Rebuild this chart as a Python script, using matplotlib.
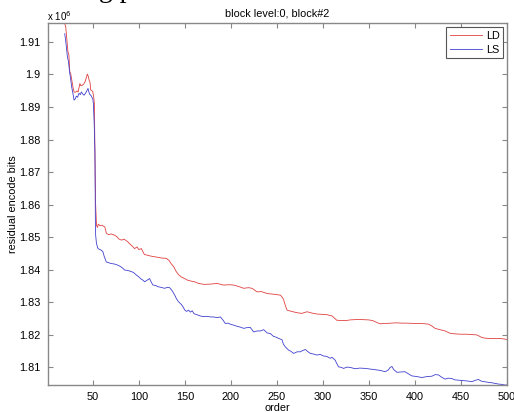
import numpy as np
import matplotlib.pyplot as plt

plt.rcParams['font.family'] = ['Liberation Sans', 'DejaVu Sans']

# residual encode bits (x 10^6) against predictor order
ld_order = [19, 20.6, 22, 23, 24, 25, 26, 27.8, 28.5, 29.6, 31, 33, 34, 36, 37, 38.7, 40, 41.5, 43, 44,
            45, 46, 47, 47.7, 49, 50, 51, 51.7, 52.4, 53, 54, 55, 56, 58, 60, 62, 63, 64.7, 67, 70,
            73.8, 76, 78, 81, 84, 88, 90, 93, 95.4, 98, 100, 102.7, 104, 106, 110, 113, 117, 121, 125, 130,
            133, 135, 138, 140.7, 143.5, 146, 149.7, 153, 157, 160.5, 165, 171, 178, 185, 192, 198, 203, 208, 214, 219,
            223, 228.5, 233, 239.4, 246, 253.8, 256, 257.4, 259.2, 261, 266, 272, 277, 282.7, 288, 293.6, 299, 304.4, 310, 315,
            320, 325, 329.7, 336, 342, 349.5, 354, 357, 362, 368, 374, 380, 386, 392, 400, 407, 414.6, 418, 421.9, 427,
            432.8, 438, 443.6, 450, 456, 462, 467, 470, 472.5, 476, 480, 486, 492, 497.9, 500]
ld_bits = [1.9160, 1.9146, 1.9100, 1.9069, 1.9060, 1.9008, 1.9002, 1.8972, 1.8960, 1.8946, 1.8945, 1.8949, 1.8946, 1.8972, 1.8965, 1.8967, 1.8970, 1.8977, 1.8990, 1.9001,
           1.8995, 1.8982, 1.8975, 1.8952, 1.8950, 1.8946, 1.8930, 1.8911, 1.8758, 1.8605, 1.8537, 1.8530, 1.8540, 1.8535, 1.8537, 1.8533, 1.8532, 1.8512, 1.8508, 1.8510,
           1.8506, 1.8502, 1.8495, 1.8491, 1.8494, 1.8486, 1.8480, 1.8472, 1.8465, 1.8470, 1.8462, 1.8465, 1.8458, 1.8447, 1.8444, 1.8442, 1.8440, 1.8438, 1.8436, 1.8435,
           1.8428, 1.8419, 1.8409, 1.8394, 1.8384, 1.8378, 1.8373, 1.8368, 1.8365, 1.8363, 1.8358, 1.8355, 1.8356, 1.8358, 1.8353, 1.8354, 1.8353, 1.8349, 1.8343, 1.8345,
           1.8343, 1.8332, 1.8333, 1.8327, 1.8325, 1.8322, 1.8315, 1.8307, 1.8290, 1.8276, 1.8272, 1.8268, 1.8266, 1.8271, 1.8267, 1.8264, 1.8263, 1.8262, 1.8258, 1.8245,
           1.8244, 1.8244, 1.8246, 1.8247, 1.8247, 1.8246, 1.8244, 1.8240, 1.8234, 1.8235, 1.8236, 1.8237, 1.8236, 1.8236, 1.8235, 1.8235, 1.8233, 1.8228, 1.8220, 1.8216,
           1.8212, 1.8205, 1.8203, 1.8202, 1.8202, 1.8201, 1.8200, 1.8196, 1.8192, 1.8190, 1.8189, 1.8189, 1.8189, 1.8187, 1.8185]

ls_order = [19.5, 20.5, 22.4, 23.5, 25, 26, 27, 28.5, 29.6, 31, 32, 33.5, 35, 36.5, 37.6, 39, 40.5, 42.3, 43.5, 44.8,
            45.5, 46.6, 48, 48.8, 50, 50.6, 51.5, 52.3, 52.8, 53.1, 54, 55.7, 57, 59.3, 61, 62.5, 64.7, 67, 70, 73,
            77.3, 80, 82, 84.6, 88, 91.8, 94, 97.3, 100, 102.7, 104.5, 106.3, 109, 111.7, 113.5, 115.3, 118, 120.7, 124, 128,
            131, 133.4, 135, 137, 139, 140.7, 143, 146, 148, 150, 152, 154, 156, 158, 160, 163, 167, 170, 174, 178,
            181.5, 185, 188.7, 191, 194, 197, 200, 203, 206, 210, 214, 217, 221, 224.8, 228.5, 232, 235.7, 239.4, 243, 246,
            250, 252, 255.6, 257, 259.2, 262.8, 265, 268.2, 272, 275.5, 278, 281, 283, 286.3, 290, 293.6, 297, 300.8, 304, 308,
            310, 313.4, 315, 317, 320, 322.5, 326, 329.7, 335, 340, 346, 351, 356.8, 362, 367.7, 371, 373, 375, 376.7, 380.4,
            385, 389, 393, 396.6, 402, 407.5, 413, 418.3, 422, 425.5, 429, 432.8, 436, 440, 443, 447.2, 451, 454.4, 458, 461.7,
            465, 468.9, 472, 476.1, 480, 483.4, 487, 490.6, 494, 497.9, 500]
ls_bits = [1.9125, 1.9105, 1.9054, 1.9040, 1.9003, 1.8985, 1.8962, 1.8940, 1.8921, 1.8925, 1.8933, 1.8930, 1.8942, 1.8938, 1.8946, 1.8940, 1.8936, 1.8943, 1.8950, 1.8957,
           1.8948, 1.8939, 1.8935, 1.8931, 1.8925, 1.8911, 1.8850, 1.8758, 1.8552, 1.8506, 1.8480, 1.8465, 1.8463, 1.8460, 1.8455, 1.8440, 1.8424, 1.8422, 1.8419, 1.8418,
           1.8414, 1.8410, 1.8406, 1.8399, 1.8398, 1.8394, 1.8392, 1.8384, 1.8378, 1.8371, 1.8368, 1.8363, 1.8368, 1.8373, 1.8362, 1.8353, 1.8352, 1.8348, 1.8346, 1.8343,
           1.8346, 1.8345, 1.8340, 1.8332, 1.8322, 1.8312, 1.8302, 1.8294, 1.8286, 1.8276, 1.8272, 1.8276, 1.8270, 1.8274, 1.8265, 1.8262, 1.8258, 1.8256, 1.8257, 1.8255,
           1.8255, 1.8253, 1.8255, 1.8247, 1.8235, 1.8236, 1.8232, 1.8230, 1.8227, 1.8224, 1.8220, 1.8222, 1.8223, 1.8209, 1.8212, 1.8212, 1.8216, 1.8206, 1.8204, 1.8196,
           1.8192, 1.8189, 1.8185, 1.8172, 1.8163, 1.8153, 1.8150, 1.8143, 1.8148, 1.8148, 1.8152, 1.8155, 1.8150, 1.8143, 1.8141, 1.8138, 1.8140, 1.8135, 1.8134, 1.8128,
           1.8131, 1.8122, 1.8112, 1.8102, 1.8100, 1.8097, 1.8101, 1.8100, 1.8096, 1.8098, 1.8097, 1.8095, 1.8093, 1.8091, 1.8087, 1.8092, 1.8100, 1.8103, 1.8094, 1.8085,
           1.8086, 1.8087, 1.8080, 1.8074, 1.8072, 1.8069, 1.8072, 1.8073, 1.8078, 1.8077, 1.8070, 1.8064, 1.8067, 1.8066, 1.8062, 1.8061, 1.8060, 1.8059, 1.8058, 1.8056,
           1.8060, 1.8063, 1.8058, 1.8056, 1.8054, 1.8053, 1.8051, 1.8049, 1.8048, 1.8046, 1.8046]

x_ticks = [50, 100, 150, 200, 250, 300, 350, 400, 450, 500]
y_ticks = [1.81, 1.82, 1.83, 1.84, 1.85, 1.86, 1.87, 1.88, 1.89, 1.90, 1.91]
y_tick_labels = ['1.81', '1.82', '1.83', '1.84', '1.85', '1.86', '1.87', '1.88', '1.89', '1.9', '1.91']

fs = 7.8
fig = plt.figure(figsize=(5.14, 4.12), dpi=100)
ax = fig.add_axes([0.0928, 0.0655, 0.8936, 0.878])

ax.plot(ld_order, ld_bits, color='#e04040', lw=0.6, label='LD')
ax.plot(ls_order, ls_bits, color='#4040d0', lw=0.6, label='LS')

ax.set_xlim(1, 500)
ax.set_ylim(1.8046, 1.9157)
ax.set_xticks(x_ticks)
ax.set_xticklabels([str(t) for t in x_ticks], fontsize=fs)
ax.set_yticks(y_ticks)
ax.set_yticklabels(y_tick_labels, fontsize=fs)
ax.tick_params(direction='in', length=3.5, width=0.8, color='#888888',
               top=True, right=True, pad=5)
for s in ax.spines.values():
    s.set_color('#888888')
    s.set_linewidth(1.0)

ax.set_xlabel('order', fontsize=fs, labelpad=1)
ax.set_ylabel('residual encode bits', fontsize=fs, labelpad=1)
ax.set_title('block level:0, block#2', fontsize=fs, pad=5)
fig.text(0.091, 0.962, r'x 10$^6$', fontsize=fs - 0.8, va='center', ha='left')

# cut-off text from the page above the figure
fig.text(0.165, 1.022, 'ng p', fontsize=20, family='Liberation Serif', va='center', ha='left')

leg = ax.legend(loc='upper right', fontsize=fs, fancybox=False, edgecolor='#555555',
                handlelength=3.0, handletextpad=0.3, labelspacing=0.35,
                borderpad=0.35, borderaxespad=0.35, framealpha=1)
leg.get_frame().set_linewidth(0.8)

plt.savefig('out.png', dpi=100)
